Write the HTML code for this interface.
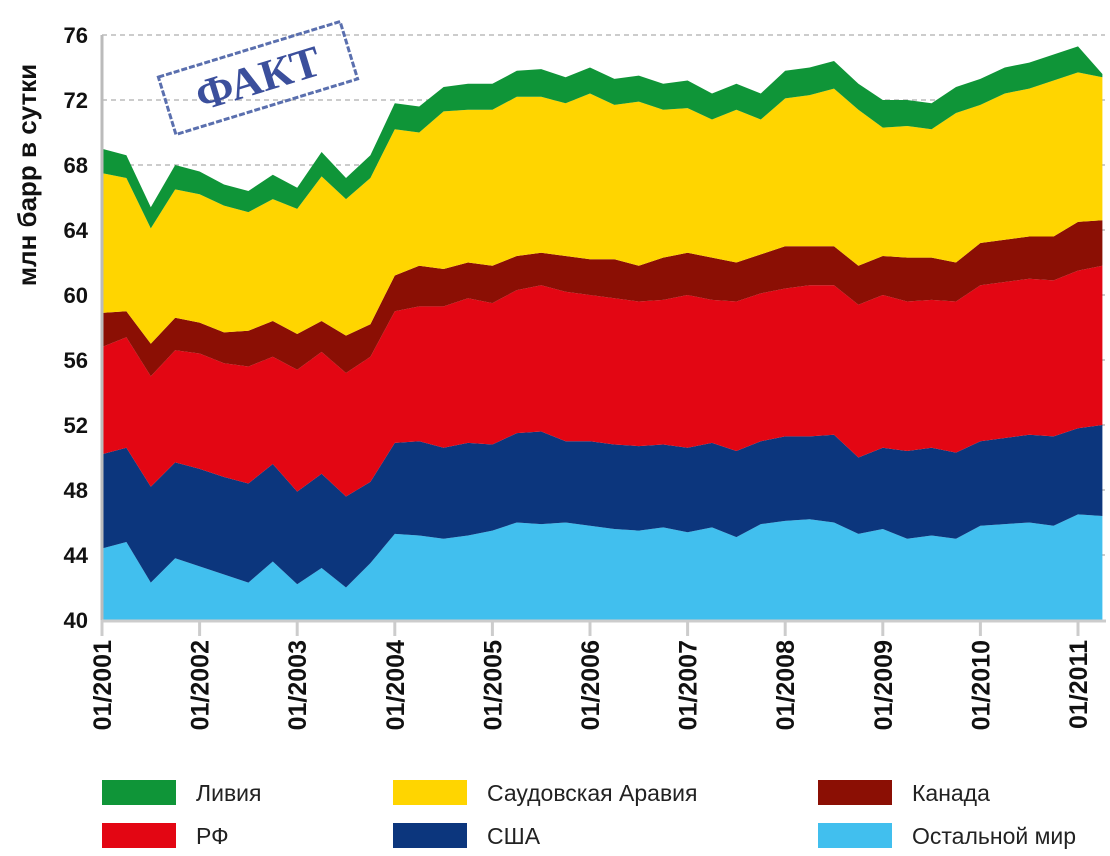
<!DOCTYPE html>
<html><head><meta charset="utf-8"><style>
body{margin:0;background:#fff;}
svg text{font-family:"Liberation Sans",sans-serif;}
</style></head><body>
<svg id="chart" width="1110" height="851" viewBox="0 0 1110 851" xmlns="http://www.w3.org/2000/svg">
<g id="grid"></g>
<g id="areas"></g>
<g id="axes"></g>
<g transform="translate(258,78) rotate(-17)">
<rect x="-95" y="-30" width="190" height="60" fill="none" stroke="#5a6fae" stroke-width="3" stroke-dasharray="6 2"/>
<text x="0" y="15" text-anchor="middle" font-size="44" font-weight="bold" fill="#3b4f9c" font-family="Liberation Serif,serif" style="font-family:'Liberation Serif',serif">ФАКТ</text>
</g>
<text transform="translate(36,175) rotate(-90)" text-anchor="middle" font-size="26" font-weight="bold" fill="#111">млн барр в сутки</text>
<g id="legend"></g>
</svg>
<script>
const years = ["01/2001","01/2002","01/2003","01/2004","01/2005","01/2006","01/2007","01/2008","01/2009","01/2010","01/2011"];
const yTicks = [40,44,48,52,56,60,64,68,72,76];
// stacked boundary levels (quarterly, Jan 2001 .. Apr 2011), mln bbl/day
const restTop = [44.4,44.8,42.3,43.8,43.3,42.8,42.3,43.6,42.2,43.2,42.0,43.5,45.3,45.2,45.0,45.2,45.5,46.0,45.9,46.0,45.8,45.6,45.5,45.7,45.4,45.7,45.1,45.9,46.1,46.2,46.0,45.3,45.6,45.0,45.2,45.0,45.8,45.9,46.0,45.8,46.5,46.4];
const usaTop = [50.2,50.6,48.2,49.7,49.3,48.8,48.4,49.6,47.9,49.0,47.6,48.5,50.9,51.0,50.6,50.9,50.8,51.5,51.6,51.0,51.0,50.8,50.7,50.8,50.6,50.9,50.4,51.0,51.3,51.3,51.4,50.0,50.6,50.4,50.6,50.3,51.0,51.2,51.4,51.3,51.8,52.0];
const rfTop = [56.8,57.4,55.0,56.6,56.4,55.8,55.6,56.2,55.4,56.5,55.2,56.2,59.0,59.3,59.3,59.8,59.5,60.3,60.6,60.2,60.0,59.8,59.6,59.7,60.0,59.7,59.6,60.1,60.4,60.6,60.6,59.4,60.0,59.6,59.7,59.6,60.6,60.8,61.0,60.9,61.5,61.8];
const canadaTop = [58.9,59.0,57.0,58.6,58.3,57.7,57.8,58.4,57.6,58.4,57.5,58.2,61.2,61.8,61.6,62.0,61.8,62.4,62.6,62.4,62.2,62.2,61.8,62.3,62.6,62.3,62.0,62.5,63.0,63.0,63.0,61.8,62.4,62.3,62.3,62.0,63.2,63.4,63.6,63.6,64.5,64.6];
const libyaVals = [1.5,1.4,1.3,1.5,1.4,1.3,1.3,1.5,1.3,1.5,1.3,1.4,1.6,1.6,1.5,1.6,1.6,1.6,1.7,1.6,1.6,1.6,1.6,1.6,1.7,1.6,1.6,1.6,1.7,1.7,1.7,1.6,1.7,1.6,1.6,1.6,1.6,1.6,1.6,1.6,1.6,0.2];
const totalTop = [69.0,68.6,65.4,68.0,67.6,66.8,66.4,67.4,66.6,68.8,67.2,68.6,71.8,71.6,72.8,73.0,73.0,73.8,73.9,73.4,74.0,73.3,73.5,73.0,73.2,72.4,73.0,72.4,73.8,74.0,74.4,73.0,72.0,72.0,71.8,72.8,73.3,74.0,74.3,74.8,75.3,73.6];

const NS="http://www.w3.org/2000/svg";
const x0=102, yearW=97.6, yBase=620, pxPerUnit=16.25;
const xq = i => x0 + i*yearW/4;
const yv = v => yBase - (v-40)*pxPerUnit;
const saudiTop = totalTop.map((t,i)=>t-libyaVals[i]);
const base40 = restTop.map(()=>40);

const grid=document.getElementById('grid');
yTicks.forEach(t=>{
  if(t===40) return;
  const l=document.createElementNS(NS,'line');
  
  
  l.setAttribute('x1',x0);l.setAttribute('x2',1105);
  l.setAttribute('y1',yv(t));l.setAttribute('y2',yv(t));
  l.setAttribute('stroke','#bbb');l.setAttribute('stroke-width','1.5');l.setAttribute('stroke-dasharray','5 4');
  grid.appendChild(l);
});

const areas=document.getElementById('areas');
function area(lower,upper,color,name){
  let d='';
  upper.forEach((v,i)=>{d+=(i?'L':'M')+xq(i).toFixed(1)+','+yv(v).toFixed(1);});
  for(let i=lower.length-1;i>=0;i--) d+='L'+xq(i).toFixed(1)+','+yv(lower[i]).toFixed(1);
  const p=document.createElementNS(NS,'path');
  
  
  p.setAttribute('d',d+'Z');p.setAttribute('fill',color);
  areas.appendChild(p);
}
area(base40,restTop,'#41bfee','area-rest-of-world');
area(restTop,usaTop,'#0c367d','area-usa');
area(usaTop,rfTop,'#e30613','area-russia');
area(rfTop,canadaTop,'#8b0f04','area-canada');
area(canadaTop,saudiTop,'#ffd500','area-saudi-arabia');
area(saudiTop,totalTop,'#0f9538','area-libya');

const axes=document.getElementById('axes');
const ax=document.createElementNS(NS,'line');


ax.setAttribute('x1',x0);ax.setAttribute('x2',x0);ax.setAttribute('y1',yv(76));ax.setAttribute('y2',yBase);
ax.setAttribute('stroke','#bbb');ax.setAttribute('stroke-width','3');axes.appendChild(ax);
const bx=document.createElementNS(NS,'line');


bx.setAttribute('x1',x0);bx.setAttribute('x2',1106);bx.setAttribute('y1',yBase+1);bx.setAttribute('y2',yBase+1);
bx.setAttribute('stroke','#ccc');bx.setAttribute('stroke-width','3');axes.appendChild(bx);
yTicks.forEach(t=>{
  const tx=document.createElementNS(NS,'text');
  
  
  tx.setAttribute('x',88);tx.setAttribute('y',yv(t)+8);
  tx.setAttribute('text-anchor','end');tx.setAttribute('font-size','22');tx.setAttribute('font-weight','bold');tx.setAttribute('fill','#111');
  tx.textContent=t;axes.appendChild(tx);
});
years.forEach((y,i)=>{
  const x=x0+i*yearW;
  const tk=document.createElementNS(NS,'line');
  
  
  tk.setAttribute('x1',x);tk.setAttribute('x2',x);tk.setAttribute('y1',yBase);tk.setAttribute('y2',yBase+16);
  tk.setAttribute('stroke','#ccc');tk.setAttribute('stroke-width','3');axes.appendChild(tk);
  const tx=document.createElementNS(NS,'text');
  
  
  tx.setAttribute('transform','translate('+(x+9)+',640) rotate(-90)');
  tx.setAttribute('text-anchor','end');tx.setAttribute('font-size','25');tx.setAttribute('font-weight','bold');tx.setAttribute('fill','#111');
  tx.textContent=y;axes.appendChild(tx);
});

const legendItems=[["Ливия","#0f9538",102,780],["Саудовская Аравия","#ffd500",393,780],["Канада","#8b0f04",818,780],["РФ","#e30613",102,823],["США","#0c367d",393,823],["Остальной мир","#41bfee",818,823]];
const lg=document.getElementById('legend');
legendItems.forEach((it,i)=>{
  const r=document.createElementNS(NS,'rect');
  
  
  r.setAttribute('x',it[2]);r.setAttribute('y',it[3]);r.setAttribute('width',74);r.setAttribute('height',25);r.setAttribute('fill',it[1]);
  lg.appendChild(r);
  const t=document.createElementNS(NS,'text');
  
  
  t.setAttribute('x',it[2]+94);t.setAttribute('y',it[3]+21);t.setAttribute('font-size','23');t.setAttribute('fill','#222');
  t.textContent=it[0];lg.appendChild(t);
});
</script>
</body></html>
